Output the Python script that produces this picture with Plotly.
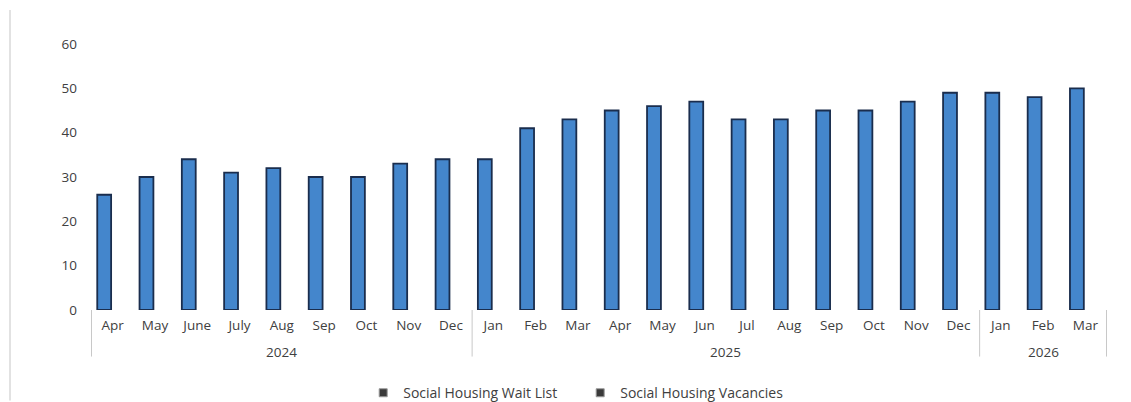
import plotly.graph_objects as go

years = ["2024"] * 9 + ["2025"] * 12 + ["2026"] * 3
months = ["Apr", "May", "June", "July", "Aug", "Sep", "Oct", "Nov", "Dec",
          "Jan", "Feb", "Mar", "Apr", "May", "Jun", "Jul", "Aug", "Sep", "Oct", "Nov", "Dec",
          "Jan", "Feb", "Mar"]
wait_list = [26, 30, 34, 31, 32, 30, 30, 33, 34,
             34, 41, 43, 45, 46, 47, 43, 43, 45, 45, 47, 49,
             49, 48, 50]
vacancies = [0, 0, 0, 0, 0, 0, 0, 0, 0,
             0, 0, 0, 0, 0, 0, 0, 0, 0, 0, 0, 0,
             0, 0, 0]
y_ticks = [0, 10, 20, 30, 40, 50, 60]

FONT = "Open Sans"
TXT = "#404040"
FS = 13.5

cats = [f"{m} {y}" for m, y in zip(months, years)]

fig = go.Figure()
fig.add_trace(go.Bar(
    x=cats, y=wait_list, name="Social Housing Wait List",
    marker=dict(color="#4486cc", line=dict(color="#1a2d4d", width=1.8)),
    showlegend=False,
))
fig.add_trace(go.Bar(
    x=cats, y=vacancies, name="Social Housing Vacancies",
    marker=dict(color="#404040", line=dict(width=0)),
    showlegend=False,
))
for nm in ["Social Housing Wait List", "Social Housing Vacancies"]:
    fig.add_trace(go.Scatter(
        x=[None], y=[None], xaxis="x2", yaxis="y2", mode="markers", name=nm,
        marker=dict(symbol="square", size=8, color="#3a3a3a",
                    line=dict(color="#9a9a9a", width=1)),
        hoverinfo="skip",
    ))

groups = []
for i, y in enumerate(years):
    if not groups or groups[-1][0] != y:
        groups.append([y, i, i])
    else:
        groups[-1][2] = i

shapes = [dict(type="line", xref="paper", yref="paper",
               x0=-0.0797, x1=-0.0797, y0=1.128, y1=-0.34,
               line=dict(color="#e2e2e2", width=2))]
annotations = []
bounds = [groups[0][1] - 0.5] + [g[2] + 0.5 for g in groups]
for b in bounds:
    shapes.append(dict(type="line", xref="x", yref="paper", x0=b, x1=b,
                       y0=0, y1=-0.175, line=dict(color="#c8c8c8", width=1)))
for y, a, b in groups:
    annotations.append(dict(x=(a + b) / 2, y=-0.158, xref="x", yref="paper",
                            text=y, showarrow=False, yanchor="middle",
                            font=dict(family=FONT, size=FS, color=TXT)))

fig.update_layout(
    width=1131, height=402,
    margin=dict(l=91, r=24, t=44, b=92),
    paper_bgcolor="white", plot_bgcolor="white",
    barmode="group", bargap=0.2, bargroupgap=0.18,
    font=dict(family=FONT, size=FS, color=TXT),
    xaxis=dict(
        type="category", showgrid=False, showline=False, zeroline=False,
        tickmode="array", tickvals=cats, ticktext=months, ticks="",
        tickfont=dict(family=FONT, size=FS, color=TXT),
        ticklabelstandoff=5, automargin=False,
    ),
    yaxis=dict(
        range=[0, 60], tickvals=y_ticks, showgrid=False, zeroline=False,
        showline=False, ticks="", ticklabelstandoff=13, automargin=False,
        tickfont=dict(family=FONT, size=FS, color=TXT),
    ),
    xaxis2=dict(visible=False, overlaying="x", range=[0, 1]),
    yaxis2=dict(visible=False, overlaying="y", range=[0, 1]),
    legend=dict(
        orientation="h", xref="container", yref="container",
        x=0.513, xanchor="center", y=0.022, yanchor="middle",
        font=dict(family=FONT, size=14, color=TXT),
        itemwidth=30, entrywidth=172, entrywidthmode="pixels",
        bgcolor="rgba(0,0,0,0)",
    ),
    shapes=shapes,
    annotations=annotations,
)

fig.write_html("out.html")
